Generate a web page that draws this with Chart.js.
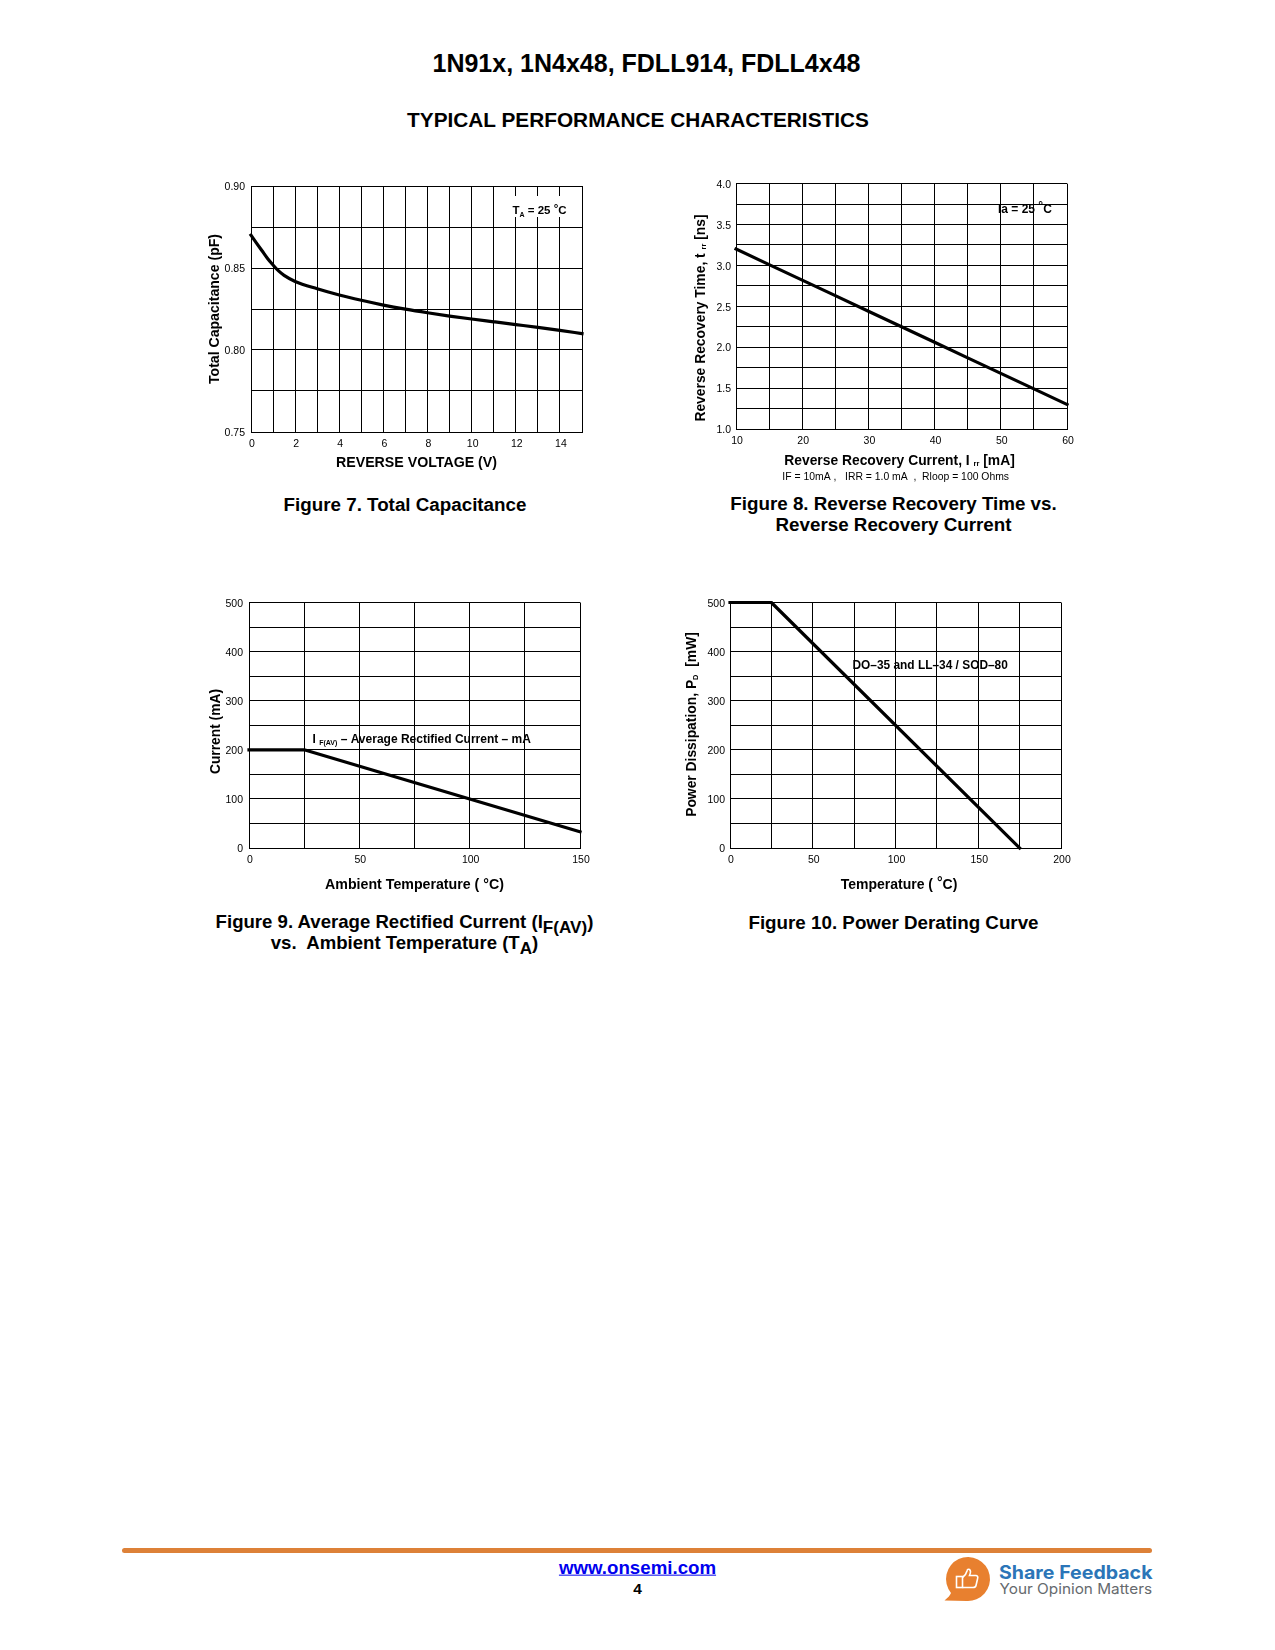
<!DOCTYPE html>
<html><head><meta charset="utf-8">
<script src="https://cdn.jsdelivr.net/npm/chart.js@4"></script>
<style>
html,body{margin:0;padding:0;background:#fff;}
body{position:relative;width:1275px;height:1650px;overflow:hidden;font-family:"Liberation Sans",Arial,sans-serif;color:#000;}
canvas{position:absolute;}
.t{position:absolute;font-weight:bold;text-align:center;white-space:nowrap;transform:translate(-50%,-50%);line-height:1;}
.s{font-size:.92em;position:relative;top:.28em;}
</style></head><body>
<div class="t" style="left:646.5px;top:62.5px;font-size:25px">1N91x, 1N4x48, FDLL914, FDLL4x48</div>
<div class="t" style="left:638px;top:120px;font-size:20.8px">TYPICAL PERFORMANCE CHARACTERISTICS</div>
<canvas id="c1"></canvas><canvas id="c2"></canvas><canvas id="c3"></canvas><canvas id="c4"></canvas>
<div class="t" style="left:405px;top:505px;font-size:18.8px">Figure 7. Total Capacitance</div>
<div class="t" style="left:893.5px;top:504px;font-size:18.8px">Figure 8. Reverse Recovery Time vs.</div>
<div class="t" style="left:893.5px;top:525px;font-size:18.8px">Reverse Recovery Current</div>
<div class="t" style="left:404.5px;top:922px;font-size:18.6px">Figure 9. Average Rectified Current (I<span class="s">F(AV)</span>)</div>
<div class="t" style="left:404.5px;top:943px;font-size:18.6px">vs.&nbsp; Ambient Temperature (T<span class="s">A</span>)</div>
<div class="t" style="left:893.5px;top:923px;font-size:18.8px">Figure 10. Power Derating Curve</div>
<div style="position:absolute;left:122px;top:1548px;width:1030px;height:5px;border-radius:3px;background:#dd8138"></div>
<div class="t" style="left:637.5px;top:1568px;font-size:18.7px;color:#0000ee;text-decoration:underline">www.onsemi.com</div>
<div class="t" style="left:637.5px;top:1589px;font-size:15.5px">4</div>
<svg style="position:absolute;left:930px;top:1545px" width="240" height="70" viewBox="0 0 240 70">
<g transform="translate(0 1)">
<path d="M14.5 54.5 Q20 50 21 47 A22 22 0 1 1 36.7 55 Z" fill="#e8802f"/>
<rect x="26.5" y="30.5" width="6" height="11" fill="none" stroke="#fff" stroke-width="1.6"/>
<path d="M32.5 31.5 Q36 29 37 25 Q37.5 22.5 39.5 23.5 Q41.5 25 39.5 29.5 L46 29.5 Q48.5 30 47.5 33 L46 39.5 Q45.5 41.5 43 41.5 L32.5 41.5" fill="none" stroke="#fff" stroke-width="1.6"/>
</g>
<text x="69" y="33.5" font-family="Inter" font-weight="700" font-size="18.5" fill="#2b75b8" textLength="153.5" lengthAdjust="spacingAndGlyphs">Share Feedback</text>
<text x="69.5" y="48.5" font-family="Inter" font-weight="400" font-size="14.5" fill="#666a6e" textLength="152.5" lengthAdjust="spacingAndGlyphs">Your Opinion Matters</text>
</svg>
<script>
// Figure 7
const capVoltage = [0, 0.25, 0.5, 0.75, 1, 1.25, 1.5, 2, 3, 4, 5, 6, 7, 8, 9, 10, 11, 12, 13, 14, 15];
const capValues = [0.870, 0.8652, 0.8605, 0.8558, 0.8518, 0.8482, 0.8455, 0.8418, 0.8373, 0.8335, 0.8303, 0.8274, 0.8249, 0.8227, 0.8207, 0.8189, 0.8172, 0.8155, 0.8138, 0.812, 0.810];
const capXLabels = ['0','2','4','6','8','10','12','14'];
const capYLabels = ['0.75','0.80','0.85','0.90'];
// Figure 8
const trrCurrent = [10, 15, 20, 25, 30, 35, 40, 45, 50, 55, 60];
const trrValues = [3.2, 3.01, 2.82, 2.63, 2.44, 2.25, 2.06, 1.87, 1.68, 1.49, 1.3];
const trrXLabels = ['10','20','30','40','50','60'];
const trrYLabels = ['1.0','1.5','2.0','2.5','3.0','3.5','4.0'];
// Figure 9
const ifTemp = [0, 25, 150];
const ifValues = [200, 200, 33];
const ifXLabels = ['0','50','100','150'];
const ifYLabels = ['0','100','200','300','400','500'];
// Figure 10
const pdTemp = [0, 25, 175];
const pdValues = [500, 500, 0];
const pdXLabels = ['0','50','100','150','200'];
const pdYLabels = ['0','100','200','300','400','500'];

const FF = '"Liberation Sans", Arial, sans-serif';
Chart.defaults.font.family = FF;
Chart.defaults.color = '#000';

const overlay = {
  id: 'overlay',
  beforeDatasetsDraw(chart, args, o) {
    if (!o.mask) return;
    const c = chart.ctx, ox = chart.canvas.offsetLeft, oy = chart.canvas.offsetTop;
    c.save(); c.fillStyle = '#fff';
    c.fillRect(o.mask[0] - ox, o.mask[1] - oy, o.mask[2], o.mask[3]);
    c.restore();
  },
  afterDatasetsDraw(chart, args, o) {
    const c = chart.ctx, ox = chart.canvas.offsetLeft, oy = chart.canvas.offsetTop;
    for (const t of (o.texts || [])) {
      c.save();
      c.translate(t.x - ox, t.y - oy);
      if (t.rot) c.rotate(-Math.PI / 2);
      c.textBaseline = 'alphabetic'; c.textAlign = 'left'; c.fillStyle = '#000';
      const fontOf = r => (r[3] === 'n' ? '' : 'bold ') + r[1] + 'px ' + FF;
      let w = 0;
      for (const r of t.runs) { c.font = fontOf(r); w += c.measureText(r[0]).width; }
      let px = t.center ? -w / 2 : 0;
      for (const r of t.runs) {
        c.font = fontOf(r);
        c.fillText(r[0], px, r[2] || 0);
        px += c.measureText(r[0]).width;
      }
      c.restore();
    }
  }
};

function makeChart(cfg) {
  const el = document.getElementById(cfg.id);
  const [L, T, R, B] = cfg.canvas, [pl, pt, pr, pb] = cfg.plot;
  el.style.left = L + 'px'; el.style.top = T + 'px';
  el.width = R - L; el.height = B - T;
  const fitX = s => { s.height = B - pb; s.paddingLeft = s.paddingRight = s.paddingTop = s.paddingBottom = 0; };
  const fitY = s => { s.width = pl - L; s.paddingLeft = s.paddingRight = s.paddingTop = s.paddingBottom = 0; };
  const grid = { color: '#000', lineWidth: 1, drawTicks: false };
  const border = { color: '#000', width: 1 };
  const tickFont = { size: 10.5 };
  return new Chart(el, {
    type: 'line',
    data: { datasets: [{
      data: cfg.xs.map((x, i) => ({ x, y: cfg.ys[i] })),
      borderColor: '#000', borderWidth: 3.2, pointRadius: 0, clip: false,
      borderCapStyle: 'square', borderJoinStyle: 'round',
      cubicInterpolationMode: cfg.smooth ? 'monotone' : 'default'
    }] },
    options: {
      responsive: false, animation: false, devicePixelRatio: 1,
      layout: { padding: { left: 0, top: pt - T, right: R - pr, bottom: 0 } },
      plugins: { legend: { display: false }, tooltip: { enabled: false }, overlay: { texts: cfg.texts, mask: cfg.mask } },
      scales: {
        x: { type: 'linear', min: cfg.xr[0], max: cfg.xr[1], grid, border, afterFit: fitX,
          title: cfg.xTitle ? { display: true, text: cfg.xTitle, font: { size: 14.2, weight: 'bold' }, padding: 0, color: '#000' } : { display: false },
          ticks: { stepSize: cfg.xr[2], autoSkip: false, maxRotation: 0, padding: 6, labelOffset: 1, font: tickFont,
            callback: v => { const s = String(v); return cfg.xl.includes(s) ? s : ''; } } },
        y: { type: 'linear', min: cfg.yr[0], max: cfg.yr[1], grid, border, afterFit: fitY,
          title: cfg.yTitle ? { display: true, text: cfg.yTitle, font: { size: 14.1, weight: 'bold' }, padding: 0, color: '#000' } : { display: false },
          ticks: { stepSize: cfg.yr[2], autoSkip: false, padding: cfg.yPad, labelOffset: 1.4, font: tickFont,
            callback: v => { const s = v.toFixed(cfg.yd); return cfg.yl.includes(s) ? s : ''; } } }
      }
    },
    plugins: [overlay]
  });
}

makeChart({ id: 'c1', canvas: [207, 170, 600, 472], plot: [251, 186, 582, 432],
  xs: capVoltage, ys: capValues, smooth: true, xr: [0, 15, 1], yr: [0.75, 0.9, 0.025], yd: 2, yPad: 6,
  xl: capXLabels, yl: capYLabels,
  xTitle: 'REVERSE VOLTAGE (V)', yTitle: 'Total Capacitance (pF)', mask: [510, 196, 57, 21],
  texts: [{ x: 512.5, y: 214, runs: [['T', 11.5], ['A', 7, 3], [' = 25 ', 11.5], ['°', 11.5, -2.5], ['C', 11.5]] }] });

makeChart({ id: 'c2', canvas: [685, 170, 1085, 490], plot: [736, 183.6, 1067, 429],
  xs: trrCurrent, ys: trrValues, xr: [10, 60, 5], yr: [1, 4, 0.25], yd: 1, yPad: 5,
  xl: trrXLabels, yl: trrYLabels,
  texts: [
    { x: 998, y: 213, runs: [['Ia = 25 ', 12], ['°', 12, -3], ['C', 12]] },
    { x: 704.5, y: 318, rot: true, center: true, runs: [['Reverse Recovery Time, t ', 13.85], ['rr', 7.5, 1], [' [ns]', 13.85]] },
    { x: 899.5, y: 465, center: true, runs: [['Reverse Recovery Current, I ', 13.85], ['rr', 7.5, 1], [' [mA]', 13.85]] },
    { x: 895.7, y: 479.5, center: true, runs: [['IF = 10mA ,   IRR = 1.0 mA  ,  Rloop = 100 Ohms', 10.4, 0, 'n']] }
  ] });

makeChart({ id: 'c3', canvas: [205, 590, 600, 894], plot: [249, 602.5, 580, 848],
  xs: ifTemp, ys: ifValues, xr: [0, 150, 25], yr: [0, 500, 50], yd: 0, yPad: 6,
  xl: ifXLabels, yl: ifYLabels,
  xTitle: 'Ambient Temperature ( °C)',
  texts: [
    { x: 219.5, y: 731.5, rot: true, center: true, runs: [['Current (mA)', 13.8]] },
    { x: 312.5, y: 742.5, runs: [['I ', 12], ['F(AV)', 7, 2], [' – Average Rectified Current – mA', 12]] }
  ] });

makeChart({ id: 'c4', canvas: [680, 590, 1085, 893], plot: [730, 602.5, 1061, 848],
  xs: pdTemp, ys: pdValues, xr: [0, 200, 25], yr: [0, 500, 50], yd: 0, yPad: 5,
  xl: pdXLabels, yl: pdYLabels,
  texts: [
    { x: 695.5, y: 724.5, rot: true, center: true, runs: [['Power Dissipation, P', 13.85], ['D', 7.5, 2], ['  [mW]', 13.85]] },
    { x: 899, y: 889, center: true, runs: [['Temperature ( ', 14], ['°', 14, -2], ['C)', 14]] },
    { x: 852.5, y: 669, runs: [['DO–35 and LL–34 / SOD–80', 11.9]] }
  ] });
</script>
</body></html>
